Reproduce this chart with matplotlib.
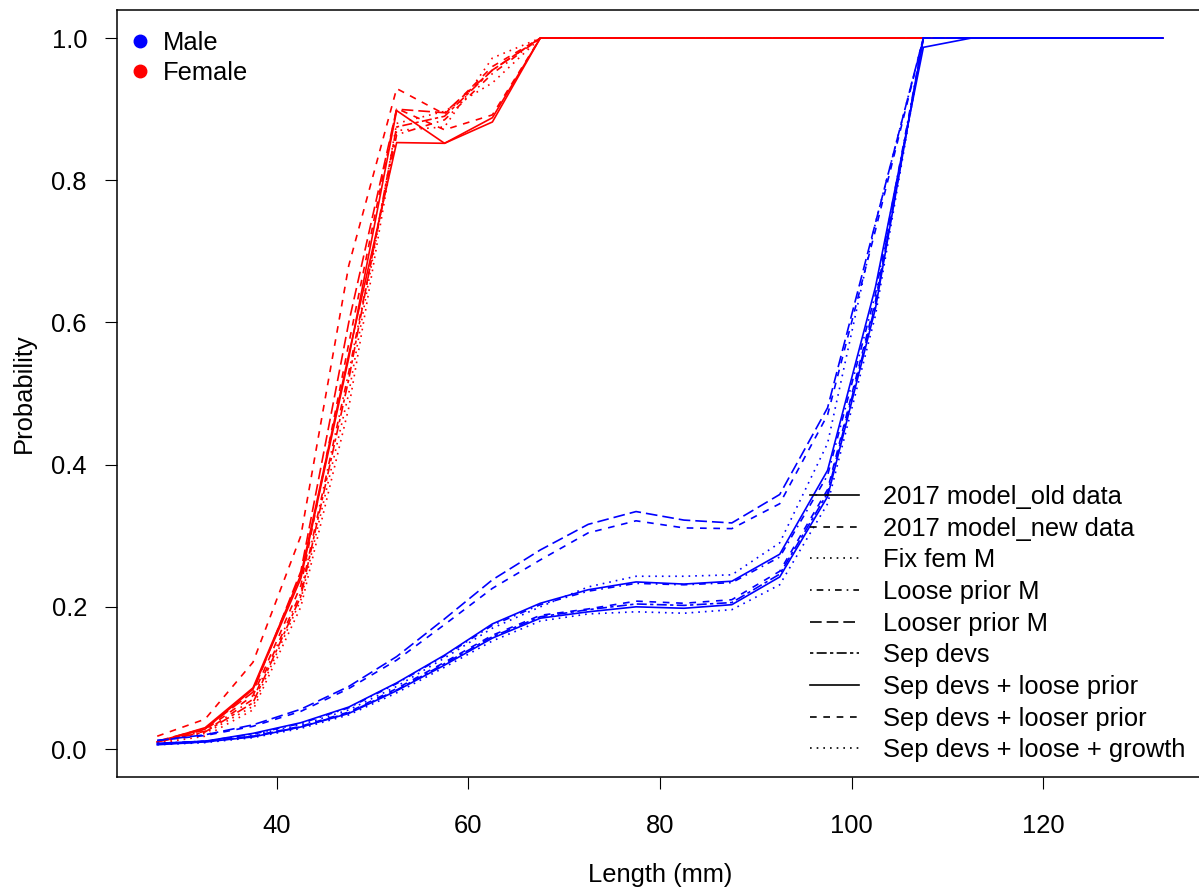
import numpy as np
import matplotlib
matplotlib.use("Agg")
import matplotlib.pyplot as plt
from matplotlib.lines import Line2D

plt.rcParams['font.family'] = ['Liberation Sans', 'DejaVu Sans']

# ---- data ----
lengths = np.arange(27.5, 135, 5.0)   # 22 length bins (mm)

models = ["2017 model_old data", "2017 model_new data", "Fix fem M",
          "Loose prior M", "Looser prior M", "Sep devs",
          "Sep devs + loose prior", "Sep devs + looser prior",
          "Sep devs + loose + growth"]

# R lty 1..6 then 1,2,3
styles = ["-", (0, (4, 4)), (0, (1, 3)), (0, (1, 3, 4, 3)),
          (0, (7, 3)), (0, (2, 2, 6, 2)), "-", (0, (4, 4)), (0, (1, 3))]

ones = [1.0] * 14
female = [
    [0.010, 0.028, 0.084, 0.240, 0.550, 0.898, 0.852, 0.882] + ones,
    [0.018, 0.042, 0.122, 0.300, 0.680, 0.929, 0.893, 0.960] + ones,
    [0.009, 0.022, 0.060, 0.210, 0.500, 0.880, 0.897, 0.937] + ones,
    [0.010, 0.025, 0.070, 0.220, 0.530, 0.864, 0.885, 0.950] + ones,
    [0.011, 0.029, 0.080, 0.250, 0.600, 0.900, 0.895, 0.955] + ones,
    [0.010, 0.024, 0.065, 0.215, 0.520, 0.875, 0.890, 0.955] + ones,
    [0.010, 0.030, 0.086, 0.245, 0.555, 0.853, 0.852, 0.888] + ones,
    [0.010, 0.027, 0.075, 0.230, 0.570, 0.901, 0.871, 0.892] + ones,
    [0.008, 0.018, 0.055, 0.200, 0.480, 0.870, 0.875, 0.972] + ones,
]

male = [
    [0.008, 0.011, 0.022, 0.037, 0.059, 0.093, 0.132, 0.176, 0.205, 0.224, 0.235,
     0.232, 0.236, 0.274, 0.392, 0.650, 0.987, 1.0, 1.0, 1.0, 1.0, 1.0],
    [0.007, 0.011, 0.018, 0.032, 0.052, 0.085, 0.122, 0.160, 0.188, 0.197, 0.208,
     0.205, 0.210, 0.250, 0.365, 0.630, 1.0, 1.0, 1.0, 1.0, 1.0, 1.0],
    [0.007, 0.010, 0.020, 0.034, 0.055, 0.088, 0.128, 0.170, 0.200, 0.228, 0.243,
     0.243, 0.245, 0.290, 0.430, 0.740, 1.0, 1.0, 1.0, 1.0, 1.0, 1.0],
    [0.008, 0.011, 0.021, 0.036, 0.058, 0.092, 0.131, 0.174, 0.203, 0.222, 0.233,
     0.231, 0.234, 0.270, 0.385, 0.640, 1.0, 1.0, 1.0, 1.0, 1.0, 1.0],
    [0.012, 0.020, 0.034, 0.056, 0.088, 0.130, 0.183, 0.238, 0.280, 0.316, 0.334,
     0.322, 0.318, 0.358, 0.480, 0.740, 1.0, 1.0, 1.0, 1.0, 1.0, 1.0],
    [0.007, 0.010, 0.018, 0.031, 0.051, 0.083, 0.120, 0.158, 0.186, 0.196, 0.204,
     0.202, 0.206, 0.246, 0.360, 0.625, 1.0, 1.0, 1.0, 1.0, 1.0, 1.0],
    [0.006, 0.010, 0.017, 0.031, 0.050, 0.082, 0.118, 0.156, 0.184, 0.193, 0.200,
     0.198, 0.203, 0.242, 0.355, 0.620, 1.0, 1.0, 1.0, 1.0, 1.0, 1.0],
    [0.012, 0.019, 0.032, 0.053, 0.085, 0.125, 0.175, 0.226, 0.266, 0.304, 0.321,
     0.311, 0.310, 0.345, 0.470, 0.730, 1.0, 1.0, 1.0, 1.0, 1.0, 1.0],
    [0.006, 0.009, 0.016, 0.029, 0.048, 0.079, 0.115, 0.152, 0.180, 0.190, 0.193,
     0.191, 0.196, 0.231, 0.345, 0.610, 1.0, 1.0, 1.0, 1.0, 1.0, 1.0],
]

# ---- plot ----
fs = 18.4
fig = plt.figure(figsize=(11.99, 8.93), dpi=100)
ax = fig.add_axes([117 / 1199, 0.1294, 1086 / 1199, 0.8598])

for f, ls in zip(female, styles):
    ax.plot(lengths, f, color="red", lw=1.2, linestyle=ls)
for m, ls in zip(male, styles):
    ax.plot(lengths, m, color="blue", lw=1.2, linestyle=ls)

ax.set_xlim(23.3, 136.7)
ax.set_ylim(-0.04, 1.04)
ax.set_xticks([40, 60, 80, 100, 120])
ax.set_yticks([0, 0.2, 0.4, 0.6, 0.8, 1.0])
ax.set_yticklabels(["0.0", "0.2", "0.4", "0.6", "0.8", "1.0"])
ax.tick_params(axis="both", length=8.6, width=0.8, labelsize=fs, direction="out")
ax.tick_params(axis="y", pad=13)
ax.tick_params(axis="x", pad=18)
for s in ["left", "bottom", "top"]:
    ax.spines[s].set_linewidth(1.1)
ax.spines["right"].set_visible(False)

ax.set_xlabel("Length (mm)", fontsize=fs)
ax.set_ylabel("Probability", fontsize=fs)
ax.xaxis.set_label_coords(0.5, -0.112)
ax.yaxis.set_label_coords(-0.0746, 0.5)

# sex legend (top left)
sex_handles = [Line2D([], [], marker="o", color="blue", linestyle="none", markersize=9),
               Line2D([], [], marker="o", color="red", linestyle="none", markersize=9)]
leg1 = ax.legend(sex_handles, ["Male", "Female"], loc="upper left",
                 bbox_to_anchor=(128 / 1199, 1 - 31 / 893), bbox_transform=fig.transFigure,
                 frameon=False, fontsize=fs, handlelength=0.9, handletextpad=0.45,
                 labelspacing=0.22, borderpad=0, borderaxespad=0)
ax.add_artist(leg1)

# model legend
model_handles = [Line2D([], [], color="black", lw=1.2, linestyle=ls) for ls in styles]
ax.legend(model_handles, models, loc="upper left",
          bbox_to_anchor=(810 / 1199, 1 - 485 / 893), bbox_transform=fig.transFigure,
          frameon=False, fontsize=fs, handlelength=1.9, handletextpad=0.95,
          labelspacing=0.3, borderpad=0, borderaxespad=0)

fig.savefig("out.png", dpi=100)
